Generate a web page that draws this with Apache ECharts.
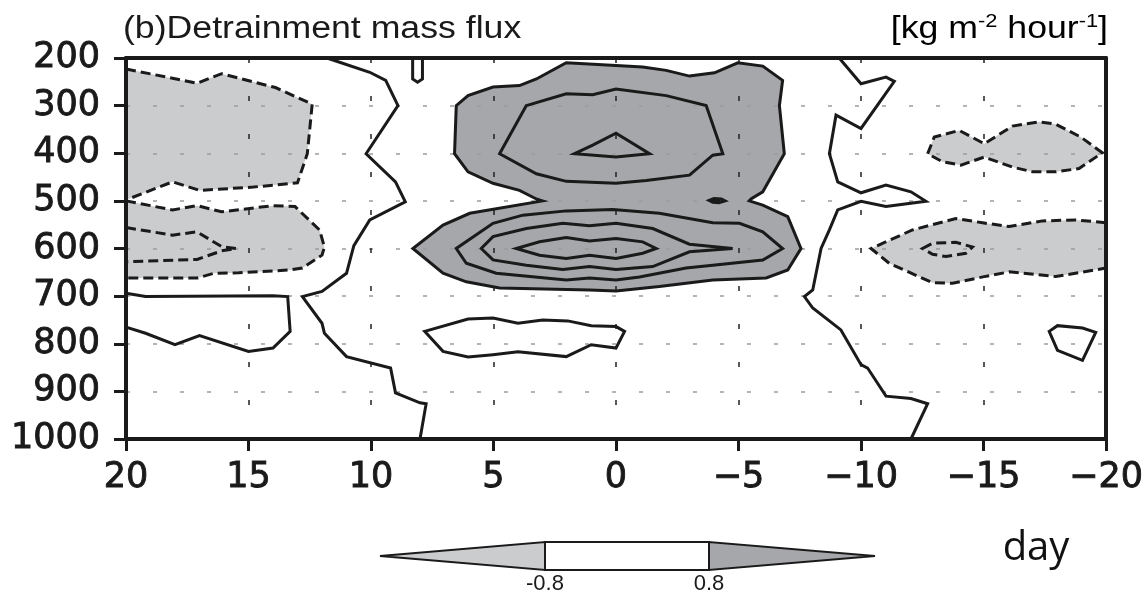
<!DOCTYPE html>
<html>
<head>
<meta charset="utf-8">
<title>Detrainment mass flux</title>
<script src="https://cdn.jsdelivr.net/npm/echarts@6/dist/echarts.min.js"></script>
<style>
  html, body { margin: 0; padding: 0; background: #fff; }
  #chart { width: 1148px; height: 596px; }
</style>
</head>
<body>
<div id="chart"></div>
<script>
// axis ticks
var dayTicks = [20, 15, 10, 5, 0, -5, -10, -15, -20];
var pressureTicks = [200, 300, 400, 500, 600, 700, 800, 900, 1000];
var shadeLevels = [-0.8, 0.8];

// contours, [day, hPa]
// negative (dashed), west side, touching the left edge
var negTopLeft = [[20,223],[17.1,253],[16.1,233],[13.9,262],[12.4,297],[12.6,401],[13.0,462],[14.8,471],[17.0,478],[18.1,460],[20,498]];
var negMidLeft = [[20,500],[18.1,519],[17.1,510],[16.1,523],[14.0,510],[13.1,512],[12.1,561],[11.9,597],[12.0,614],[12.8,641],[13.3,645],[15.4,651],[16.4,652],[17.1,662],[20,662]];
var negMidLeftInner = [[20,556],[18.1,572],[17.1,565],[16.1,596],[15.5,600],[16.1,605],[17.1,623],[20,628]];
// zero lines (solid, not shaded)
var zeroLowLeft = [[20,694],[19.2,701],[14.0,699],[13.4,701],[13.3,774],[14.0,809],[15.0,816],[17.0,783],[18.0,802],[19.2,778],[20,765]];
var zeroWest = [[11.8,200],[10.05,230],[9.4,247],[8.9,300],[10.2,401],[9.0,460],[8.6,502],[10.05,540],[10.7,594],[11.0,652],[12.0,690],[12.8,701],[12.0,757],[11.9,778],[11.0,827],[9.2,851],[9.0,903],[8.0,924],[7.75,926],[8.0,1000]];
var zeroNotch = [[8.3,200],[8.3,244],[8.1,251],[7.9,244],[7.9,200]];
var zeroCenterLow = [[7.81,774],[6.04,748],[5.02,746],[4.0,757],[2.99,750],[1.97,752],[1.01,762],[0,764],[-0.35,774],[0,809],[1.01,802],[2.03,827],[4.0,817],[5.02,823],[6.04,828],[7.06,816]];
var zeroEast = [[-9.11,200],[-10.0,254],[-11.02,240],[-11.36,249],[-10.0,348],[-8.98,320],[-8.71,401],[-9.05,460],[-10.0,483],[-11.02,467],[-12.04,481],[-12.65,501],[-11.02,512],[-10.0,501],[-9.05,519],[-8.71,561],[-8.37,600],[-8.03,687],[-7.69,701],[-8.03,725],[-9.18,771],[-10.0,844],[-10.27,851],[-11.02,910],[-12.04,915],[-12.72,926],[-12.04,1000]];
var zeroSmallRight = [[-17.68,774],[-18.02,762],[-19.04,767],[-19.58,776],[-19.04,835],[-18.02,814]];
// positive core around day 0
var posOuter = [[3.0,500],[3.25,496],[3.94,478],[5.02,463],[6.04,439],[6.59,401],[6.52,300],[6.04,279],[5.02,261],[3.94,258],[3.25,244],[2.03,210],[0,216],[-1.09,219],[-2.05,226],[-3.0,238],[-4.02,231],[-4.97,210],[-5.99,217],[-6.8,247],[-6.67,300],[-6.87,401],[-5.99,481],[-5.51,496],[-5.44,500],[-5.99,509],[-7.01,533],[-7.55,600],[-7.01,645],[-6.13,662],[-3.95,666],[-1.77,680],[0,689],[1.08,687],[4.75,683],[6.11,670],[7.06,652],[8.29,600],[7.06,551],[5.97,526]];
var posUpperRing = [[3.66,300],[2.03,275],[0.95,277],[0,265],[-2.05,279],[-3.68,300],[-4.36,401],[-3.95,404],[-3.0,446],[-1.23,457],[0,463],[2.03,459],[3.25,443],[4.75,401]];
var posUpperCore = [[1.69,401],[0.95,383],[0,358],[-1.37,401],[0,408]];
var posLowerRing2 = [[6.52,600],[6.11,631],[4.89,652],[2.03,666],[1.08,662],[0,666],[-0.96,660],[-2.86,641],[-3.95,635],[-5.99,624],[-6.8,600],[-5.99,565],[-5.04,547],[-3.95,546],[-1.77,526],[0.13,518],[2.03,521],[3.8,530],[5.02,547]];
var posLowerRing3 = [[5.5,600],[5.02,624],[3.66,635],[2.17,644],[1.08,638],[0,644],[-1.5,638],[-3.0,607],[-4.76,600],[-3.0,591],[-1.5,558],[0,547],[1.08,552],[2.17,547],[3.66,558],[5.02,575]];
var posLowerCore = [[4.07,600],[3.12,614],[2.03,621],[1.08,614],[0,621],[-1.09,610],[-1.64,600],[-1.09,586],[0,579],[1.08,584],[2.03,577],[3.12,586]];
var posSpot = [[-3.8,499],[-4.0,495],[-4.3,496],[-4.45,500],[-4.2,504],[-3.95,503]];
// negative (dashed), east side
var negUpperRight = [[-12.72,401],[-12.99,366],[-14.01,352],[-15.03,380],[-16.18,343],[-17.27,334],[-17.95,339],[-18.97,366],[-19.85,399],[-18.9,432],[-17.95,439],[-17.0,439],[-16.18,429],[-15.03,408],[-14.08,425],[-13.33,418]];
var negLowerRight = [[-20,546],[-18.77,540],[-17.41,542],[-16.05,554],[-14.96,546],[-13.87,537],[-12.1,561],[-10.41,600],[-11.15,631],[-12.92,672],[-13.74,673],[-15.03,659],[-16.05,649],[-17.95,659],[-20,641]];
var negLowerRightInner = [[-12.51,600],[-12.92,589],[-13.87,587],[-14.55,597],[-14.28,610],[-13.47,617],[-12.92,612]];

var lightGray = '#cbccce';
var darkGray = '#a6a7ab';
var ink = '#1a1a1a';

// contour list: pts, closed?, dashed?, fill
var contours = [
  { pts: negTopLeft, closed: false, dashed: true, fill: lightGray },
  { pts: negMidLeft, closed: false, dashed: true, fill: lightGray },
  { pts: negMidLeftInner, closed: false, dashed: true },
  { pts: negUpperRight, closed: true, dashed: true, fill: lightGray },
  { pts: negLowerRight, closed: false, dashed: true, fill: lightGray },
  { pts: negLowerRightInner, closed: true, dashed: true },
  { pts: posOuter, closed: true, fill: darkGray },
  { pts: posUpperRing, closed: true },
  { pts: posUpperCore, closed: true },
  { pts: posLowerRing2, closed: true },
  { pts: posLowerRing3, closed: true },
  { pts: posLowerCore, closed: true },
  { pts: posSpot, closed: true, fill: ink },
  { pts: zeroLowLeft, closed: false },
  { pts: zeroWest, closed: false },
  { pts: zeroNotch, closed: false },
  { pts: zeroCenterLow, closed: true },
  { pts: zeroEast, closed: false },
  { pts: zeroSmallRight, closed: true }
];

function fillSeries(c) {
  return {
    type: 'custom', silent: true, z: 1,
    data: [[0, 600]],
    renderItem: function (params, api) {
      var points = c.pts.map(function (p) { return api.coord(p); });
      return { type: 'polygon', shape: { points: points }, style: { fill: c.fill, stroke: null } };
    }
  };
}

function lineSeries(c) {
  return {
    type: 'custom', silent: true, z: 3,
    data: [[0, 600]],
    renderItem: function (params, api) {
      var points = c.pts.map(function (p) { return api.coord(p); });
      return {
        type: c.closed ? 'polygon' : 'polyline',
        shape: { points: points },
        style: { fill: null, stroke: ink, lineWidth: 3, lineDash: c.dashed ? [10, 5] : null, lineJoin: 'miter' }
      };
    }
  };
}

var series = [];
contours.forEach(function (c) { if (c.fill) series.push(fillSeries(c)); });
contours.forEach(function (c) { series.push(lineSeries(c)); });

// tick labels are a little heavier in the picture
var tickFont = { fontFamily: 'DejaVu Sans', fontSize: 35, color: ink, textBorderColor: ink, textBorderWidth: 0.9 };

var option = {
  animation: false,
  grid: { left: 126, top: 58, right: 42, bottom: 157 },
  xAxis: [{
    type: 'value', min: -20, max: 20, interval: 5, inverse: true, position: 'bottom', z: 2,
    axisLine: { show: true, onZero: false, lineStyle: { color: ink, width: 4 } },
    axisTick: { show: true, length: 12, lineStyle: { color: ink, width: 3 } },
    axisLabel: Object.assign({ margin: 21, showMinLabel: true, showMaxLabel: true,
      formatter: function (v) { return String(v).replace('-', '\u2212'); } }, tickFont),
    splitLine: { show: true, lineStyle: { color: '#222', width: 1.5, type: [5, 33] } }
  }, {
    type: 'value', min: -20, max: 20, interval: 5, inverse: true, position: 'top', z: 2,
    axisLine: { show: true, onZero: false, lineStyle: { color: ink, width: 4 } },
    axisTick: { show: false }, axisLabel: { show: false }, splitLine: { show: false }
  }],
  yAxis: [{
    type: 'value', min: 200, max: 1000, interval: 100, inverse: true, position: 'left', z: 2,
    axisLine: { show: true, onZero: false, lineStyle: { color: ink, width: 4 } },
    axisTick: { show: true, length: 12, lineStyle: { color: ink, width: 3 } },
    axisLabel: Object.assign({ margin: 26, showMinLabel: true, showMaxLabel: true,
      formatter: function (v) { return String(v); } }, tickFont),
    splitLine: { show: true, lineStyle: { color: '#9c9c9c', width: 1.5, type: [4, 23] } }
  }, {
    type: 'value', min: 200, max: 1000, interval: 100, inverse: true, position: 'right', z: 2,
    axisLine: { show: true, onZero: false, lineStyle: { color: ink, width: 4 } },
    axisTick: { show: false }, axisLabel: { show: false }, splitLine: { show: false }
  }],
  series: series,
  graphic: [
    // title and units (the picture is stretched sideways)
    { type: 'text', x: 123, y: 29, scaleX: 1.15,
      style: { text: '(b)Detrainment mass flux', fill: ink, font: '31px "Liberation Sans"', align: 'left', verticalAlign: 'middle' } },
    { type: 'text', x: 1108, y: 29, scaleX: 1.15,
      style: { text: '{a|[kg m}{s|-2}{a| hour}{s|-1}{a|]}', align: 'right', verticalAlign: 'middle',
        rich: {
          a: { fontFamily: 'Liberation Sans', fontSize: 31, color: ink, lineHeight: 34 },
          s: { fontFamily: 'Liberation Sans', fontSize: 19, color: ink, lineHeight: 34, verticalAlign: 'top' }
        } } },
    // colour bar
    { type: 'polygon', shape: { points: [[380, 556], [545, 542], [545, 570]] }, style: { fill: lightGray, stroke: ink, lineWidth: 2 } },
    { type: 'rect', shape: { x: 545, y: 542, width: 164, height: 28 }, style: { fill: '#fff', stroke: ink, lineWidth: 2 } },
    { type: 'polygon', shape: { points: [[709, 542], [709, 570], [875, 556]] }, style: { fill: darkGray, stroke: ink, lineWidth: 2 } },
    { type: 'text', x: 545, y: 584, style: { text: String(shadeLevels[0]), fill: ink, font: '22px "Liberation Sans"', align: 'center', verticalAlign: 'middle' } },
    { type: 'text', x: 709, y: 584, style: { text: String(shadeLevels[1]), fill: ink, font: '22px "Liberation Sans"', align: 'center', verticalAlign: 'middle' } },
    { type: 'text', x: 1036, y: 549, style: { text: 'day', fill: '#111', font: '40px "Open Sans"', align: 'center', verticalAlign: 'middle' } }
  ]
};

var chart = echarts.init(document.getElementById('chart'));
chart.setOption(option);
</script>
</body>
</html>
